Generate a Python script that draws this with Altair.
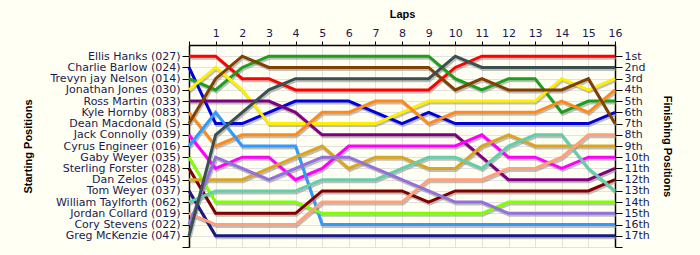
import altair as alt
import pandas as pd

laps = [0, 1, 2, 3, 4, 5, 6, 7, 8, 9, 10, 11, 12, 13, 14, 15, 16]

drivers = [
    "Ellis Hanks (027)", "Charlie Barlow (024)", "Trevyn jay Nelson (014)",
    "Jonathan Jones (030)", "Ross Martin (033)", "Kyle Hornby (083)",
    "Dean Macdonald (S)", "Jack Connolly (039)", "Cyrus Engineer (016)",
    "Gaby Weyer (035)", "Sterling Forster (028)", "Dan Zelos (045)",
    "Tom Weyer (037)", "William Taylforth (062)", "Jordan Collard (019)",
    "Cory Stevens (022)", "Greg McKenzie (047)",
]

colors = [
    "#ff0000", "#0000dd", "#1e9e1e", "#ffee00", "#800080", "#ff8a1a",
    "#804000", "#ff00ff", "#3399ff", "#7fff00", "#800000", "#daa520",
    "#1a1a80", "#66cdaa", "#ffa07a", "#9370db", "#3a5050",
]

ellis = [1, 1, 3, 3, 4, 4, 4, 4, 4, 4, 2, 1, 1, 1, 1, 1, 1]
charlie = [2, 7, 7, 6, 5, 5, 5, 6, 7, 6, 7, 7, 7, 7, 7, 7, 6]
trevyn = [3, 4, 2, 1, 1, 1, 1, 1, 1, 1, 3, 4, 3, 3, 6, 5, 5]
jonathan = [4, 2, 4, 7, 7, 7, 7, 7, 6, 5, 5, 5, 5, 5, 3, 4, 3]
ross = [5, 5, 5, 5, 6, 8, 8, 8, 8, 8, 8, 10, 12, 12, 12, 12, 11]
kyle = [6, 9, 8, 8, 8, 6, 6, 5, 5, 7, 6, 6, 6, 6, 5, 6, 4]
dean = [7, 3, 1, 2, 2, 2, 2, 2, 2, 2, 4, 3, 4, 4, 4, 3, 7]
jack = [8, 11, 10, 10, 12, 11, 9, 9, 9, 9, 9, 8, 10, 10, 11, 10, 10]
cyrus = [9, 6, 9, 9, 9, 16, 16, 16, 16, 16, 16, 16, 16, 16, 16, 16, 16]
gaby = [10, 14, 14, 14, 14, 15, 15, 15, 15, 15, 15, 15, 14, 14, 14, 14, 14]
sterling = [11, 15, 15, 15, 15, 13, 13, 13, 13, 14, 13, 13, 13, 13, 13, 13, 12]
dan = [12, 12, 12, 11, 10, 9, 11, 10, 10, 11, 11, 9, 8, 9, 9, 9, 9]
tom = [13, 17, 17, 17, 17, 17, 17, 17, 17, 17, 17, 17, 17, 17, 17, 17, 17]
william = [14, 13, 13, 13, 13, 12, 12, 12, 11, 10, 10, 11, 9, 8, 8, 11, 13]
jordan = [15, 16, 16, 16, 16, 14, 14, 14, 14, 12, 12, 12, 11, 11, 10, 8, 8]
cory = [16, 10, 11, 12, 11, 10, 10, 11, 12, 13, 14, 14, 15, 15, 15, 15, 15]
greg = [17, 8, 6, 4, 3, 3, 3, 3, 3, 3, 1, 2, 2, 2, 2, 2, 2]

positions = [ellis, charlie, trevyn, jonathan, ross, kyle, dean, jack, cyrus,
             gaby, sterling, dan, tom, william, jordan, cory, greg]

finish_labels = ["1st", "2nd", "3rd", "4th", "5th", "6th", "7th", "8th", "9th",
                 "10th", "11th", "12th", "13th", "14th", "15th", "16th", "17th"]

pos_ticks = [1, 2, 3, 4, 5, 6, 7, 8, 9, 10, 11, 12, 13, 14, 15, 16, 17, 18]

rows = []
for name, pos in zip(drivers, positions):
    for lap, p in zip(laps, pos):
        rows.append({"driver": name, "lap": lap, "pos": p})
df = pd.DataFrame(rows)

FONT = "DejaVu Sans"
TFONT = "Liberation Sans"
LABEL_COLOR = "#1a1a50"

names_js = "[" + ",".join("'" + n + "'" for n in drivers) + "]"
fin_js = "[" + ",".join("'" + n + "'" for n in finish_labels) + "]"

xscale = alt.Scale(domain=[0, 16], nice=False, zero=False)
yscale = alt.Scale(domain=[0, 18], reverse=True, nice=False, zero=False)

x_axis = alt.Axis(
    orient="top", values=laps, title="Laps",
    labelExpr="datum.value == 0 ? '' : datum.value",
    labelFont=FONT, labelFontSize=11, labelColor=LABEL_COLOR, labelPadding=3,
    labelOverlap=False, labelFlush=False,
    titleFont=TFONT, titleFontSize=11, titleFontWeight="bold", titleColor="black",
    titlePadding=8, tickSize=4, tickColor="black", domainColor="black",
    domainWidth=1.5, grid=True, gridColor="#e2e2e2", gridWidth=1,
)

y_left = alt.Axis(
    orient="left", values=pos_ticks, title="Starting Positions",
    labelExpr=f"datum.value <= 17 ? {names_js}[datum.value - 1] : ''",
    labelFont=FONT, labelFontSize=11, labelColor=LABEL_COLOR, labelPadding=2,
    labelOverlap=False, labelFlush=False,
    titleFont=TFONT, titleFontSize=11, titleFontWeight="bold", titleColor="black",
    titleX=-161, titleY=101, titleAngle=-90, titleBaseline="middle",
    tickSize=7, tickColor="black", domainColor="black", domainWidth=1.5,
    grid=True, gridColor="#e2e2e2", gridWidth=1,
)

y_right = alt.Axis(
    orient="right", values=pos_ticks, title="Finishing Positions",
    labelExpr=f"datum.value <= 17 ? {fin_js}[datum.value - 1] : ''",
    labelFont=FONT, labelFontSize=11, labelColor=LABEL_COLOR, labelPadding=2,
    labelOverlap=False, labelFlush=False,
    titleFont=TFONT, titleFontSize=11, titleFontWeight="bold", titleColor="black",
    titleX=51, titleY=101, titleAngle=90, titleBaseline="middle",
    tickSize=7, tickColor="black", domainColor="black", domainWidth=1.5,
    grid=False,
)

base = alt.Chart(df)
X = alt.X("lap:Q", scale=xscale, axis=x_axis)

shadow = base.mark_line(color="#8a8a8a", opacity=0.55, strokeWidth=3,
                        xOffset=1, yOffset=2).encode(
    x=X,
    y=alt.Y("pos:Q", scale=yscale, axis=y_left),
    detail="driver:N",
)

lines = base.mark_line(strokeWidth=3).encode(
    x=X,
    y=alt.Y("pos:Q", scale=yscale, axis=None),
    color=alt.Color("driver:N", scale=alt.Scale(domain=drivers, range=colors),
                    legend=None),
    detail="driver:N",
)

right = base.mark_line(opacity=0).encode(
    x=X,
    y=alt.Y("pos:Q", scale=yscale, axis=y_right),
    detail="driver:N",
)

chart = alt.layer(shadow, lines, right).resolve_scale(
    y="independent"
).properties(
    width=426, height=202,
    autosize=alt.AutoSizeParams(type="none"),
    padding={"left": 189, "top": 45, "right": 85, "bottom": 8},
    background="#fffff4",
).configure_view(strokeWidth=0)

chart.save("out.html", embed_options={"renderer": "svg", "actions": False})
